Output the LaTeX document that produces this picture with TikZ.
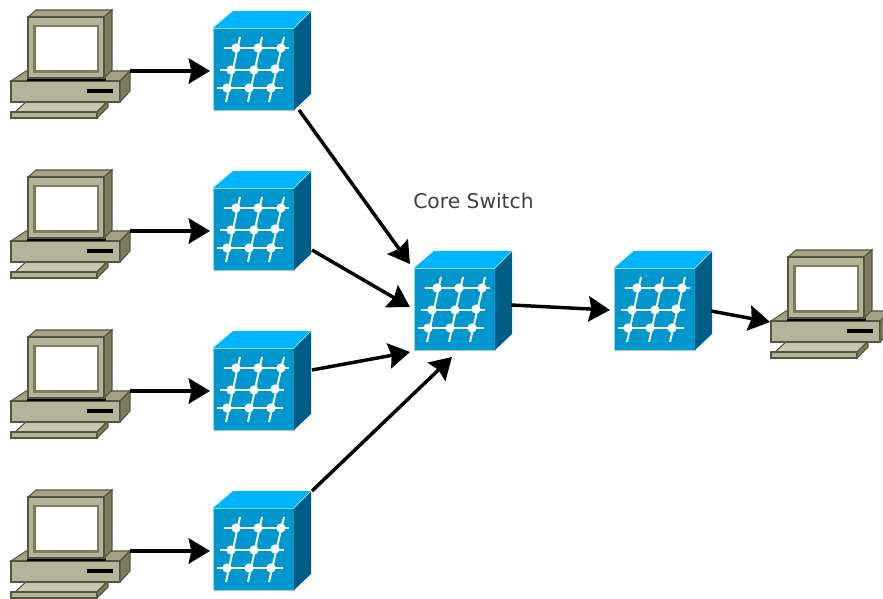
\documentclass[tikz,border=0pt]{standalone}
\usepackage{fontspec}
\setmainfont{DejaVu Sans}
\usetikzlibrary{arrows.meta}
\definecolor{swfront}{HTML}{0097CE}
\definecolor{swtop}{HTML}{00B5FF}
\definecolor{swside}{HTML}{005E86}
\definecolor{pcfront}{HTML}{B4B49A}
\definecolor{pctop}{HTML}{A3A384}
\definecolor{pcside}{HTML}{7C7C5C}
\definecolor{pckey}{HTML}{C8C8AE}
\definecolor{pcline}{HTML}{55553F}
\tikzset{
  ghost/.style={inner sep=0pt,outer sep=0pt,minimum width=#1},
  swghost/.style={ghost=73.5pt,minimum height=74.25pt},
  pcghost/.style={ghost=89.25pt,minimum height=81pt},
  link/.style={line width=2.6pt,-{Stealth[length=16pt,width=19pt,inset=2pt]}},
  label/.style={font=\fontsize{15.2pt}{18pt}\selectfont,text=black!75},
  grid/.style={white,line width=1.5pt},
  switchbox/.pic={
    \fill[swfront,draw=white!60!swfront,line width=.5pt] (0,17) rectangle (81,99);
    \fill[swtop] (0,17) -- (20,0) -- (98,0) -- (81,17) -- cycle;
    \fill[swside] (81,17) -- (98,0) -- (98,83) -- (81,99) -- cycle;
    \draw[white!70!swtop,line width=.5pt] (81,17) -- (98,0);
    \draw[grid] (11,37) -- (76,37) (7,59) -- (71,59) (4,77) -- (70,77);
    \draw[grid] (27,26) -- (13,91) (49,26) -- (35,91) (71,26) -- (56,91);
    \foreach \p in {(23,37),(45,37),(68,37),(18,59),(41,59),(62,58),(14,77),(36,77),(58,77)}
      \fill[white] \p circle (4.6);
  },
  computer/.pic={
    % keyboard
    \filldraw[fill=pckey,draw=pcline,line width=.8pt] (15,112) -- (27,101) -- (108,101) -- (97,112) -- cycle;
    \filldraw[fill=pcfront,draw=pcline,line width=.8pt] (11,112) rectangle (97,118);
    \filldraw[fill=pcside,draw=pcline,line width=.8pt] (97,112) -- (108,101) -- (108,107) -- (97,118) -- cycle;
    % base
    \filldraw[fill=pctop,draw=pcline,line width=.8pt] (11,81) -- (26,71) -- (130,71) -- (120,81) -- cycle;
    \filldraw[fill=pcfront,draw=pcline,line width=.8pt] (11,81) rectangle (120,102);
    \filldraw[fill=pcside,draw=pcline,line width=.8pt] (120,81) -- (130,71) -- (130,91) -- (120,102) -- cycle;
    \fill[black] (87,89) rectangle (113,93);
    \fill[black] (27,78) rectangle (106,81);
    % monitor
    \filldraw[fill=pctop,draw=pcline,line width=.8pt] (28,17) -- (36,10) -- (112,10) -- (104,17) -- cycle;
    \filldraw[fill=pcside,draw=pcline,line width=.8pt] (104,17) -- (112,10) -- (112,70) -- (104,78) -- cycle;
    \filldraw[fill=pcfront,draw=pcline,line width=.8pt] (28,17) rectangle (104,78);
    \fill[pcside] (33,25) rectangle (99,73);
    \fill[white] (35.5,27) rectangle (97,70);
  }
}
\begin{document}
\begin{tikzpicture}[x=.75pt,y=-.75pt]
\path[use as bounding box,fill=white] (0,0) rectangle (883,599);
\clip (0,0) rectangle (883,599);
% devices
\foreach \n/\y in {1/0,2/160,3/320,4/480}{
  \path (0,\y) pic {computer};
  \path (213,{\y+11}) pic {switchbox};
}
\path (414,251) pic {switchbox};
\path (614,251) pic {switchbox};
\path (760,240) pic {computer};
% named anchors for the connectors
\node[pcghost] (pc1) at (70.5,64) {};
\node[pcghost] (pc2) at (70.5,224) {};
\node[pcghost] (pc3) at (70.5,384) {};
\node[pcghost] (pc4) at (70.5,544) {};
\node[pcghost] (pc5) at (830.5,304) {};
\node[swghost] (sw1) at (262,60.5) {};
\node[swghost] (sw2) at (262,220.5) {};
\node[swghost] (sw3) at (262,380.5) {};
\node[swghost] (sw4) at (262,540.5) {};
\node[swghost] (core) at (463,300.5) {};
\node[swghost] (sw6) at (663,300.5) {};
% connectors
\foreach \i in {1,2,3,4}
  \draw[link] ([shift={(59.5,7)}]pc\i.center) -- ([shift={(-52,10.5)}]sw\i.center);
\draw[link] ([shift={(37,49.5)}]sw1.center) -- ([shift={(-53,-36.5)}]core.center);
\draw[link] ([shift={(50,29.5)}]sw2.center) -- ([shift={(-53,6.5)}]core.center);
\draw[link] ([shift={(50,-10.5)}]sw3.center) -- ([shift={(-53,51.5)}]core.center);
\draw[link] ([shift={(50,-49.5)}]sw4.center) -- ([shift={(-11,56.5)}]core.center);
\draw[link] ([shift={(48,4.5)}]core.center) -- ([shift={(-53,9.5)}]sw6.center);
\draw[link] ([shift={(48,10.5)}]sw6.center) -- ([shift={(-60.5,18)}]pc5.center);
% label
\node[label] (corelabel) at (473.5,201) {Core Switch};
\end{tikzpicture}
\end{document}
